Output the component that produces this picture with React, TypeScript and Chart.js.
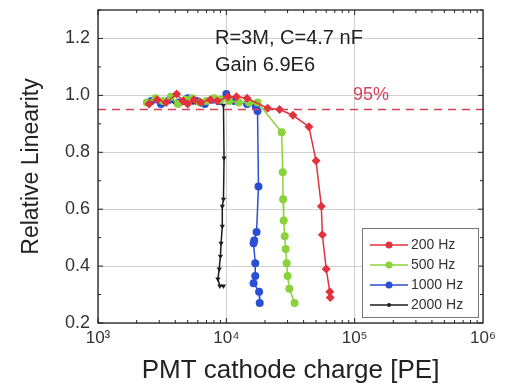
import React, { useEffect, useRef } from "react";
import { Chart, registerables } from "chart.js";

Chart.register(...registerables);

const seriesLabels = ["200 Hz", "500 Hz", "1000 Hz", "2000 Hz"];
const seriesColors = ["#e2323e", "#8ad23a", "#2b4fd4", "#1e1e1e"];

const red200: [number, number][] = [
  [2500, 0.97], [2900, 0.985], [3400, 0.975], [4100, 1.005], [4600, 0.98], [5000, 0.97],
  [5600, 0.985], [6300, 0.975], [7500, 0.985], [8500, 0.98], [10300, 0.995], [12000, 0.995],
  [14500, 0.99], [21000, 0.955], [26000, 0.95], [33000, 0.93], [44000, 0.89], [50000, 0.77],
  [55000, 0.61], [56000, 0.51], [60000, 0.39], [64000, 0.31], [64500, 0.29],
];
const green500: [number, number][] = [
  [2400, 0.975], [2800, 0.99], [3200, 0.98], [3700, 0.995], [4200, 0.97], [4800, 0.985],
  [5400, 0.99], [6200, 0.975], [7000, 0.98], [8000, 0.99], [9000, 0.985], [10500, 0.98],
  [12500, 0.975], [15000, 0.975], [17500, 0.975], [27000, 0.87], [27500, 0.73], [27700, 0.635],
  [28000, 0.56], [28500, 0.505], [29000, 0.46], [29500, 0.41], [30000, 0.365], [31000, 0.32],
  [34000, 0.27],
];
const blue1000: [number, number][] = [
  [2600, 0.98], [3100, 0.97], [3600, 0.985], [4300, 0.975], [5000, 0.99], [5900, 0.98],
  [6800, 0.97], [7800, 0.985], [8800, 0.98], [10000, 1.005], [11500, 0.98], [14500, 0.97],
  [17000, 0.96], [17500, 0.945], [17800, 0.68], [17200, 0.52], [16500, 0.49], [16300, 0.48],
  [16800, 0.41], [16800, 0.365], [16300, 0.34], [18000, 0.31], [18200, 0.27],
];
const black2000: [number, number][] = [
  [2500, 0.975], [3000, 0.98], [3500, 0.985], [4000, 0.97], [4700, 0.985], [5500, 0.975],
  [6500, 0.98], [7500, 0.985], [8500, 0.975], [9500, 0.965], [9600, 0.78], [9500, 0.635],
  [9300, 0.61], [9300, 0.54], [9100, 0.48], [9000, 0.435], [8800, 0.39], [8600, 0.355],
  [8900, 0.33], [9500, 0.33],
];
const thresholdLine: [number, number][] = [[1000, 0.95], [1000000, 0.95]];
const xDecades = [1000, 10000, 100000, 1000000];
const xTickLabels = ["10³", "10⁴", "10⁵", "10⁶"];

const toPts = (a: [number, number][]) => a.map(([x, y]) => ({ x, y }));
const FONT = "'Liberation Sans', Arial, sans-serif";

export default function App() {
  const ref = useRef<HTMLCanvasElement | null>(null);
  useEffect(() => {
    document.body.style.margin = "0";
    const canvas = ref.current!;
    const styles = [
      { pointStyle: "rectRot", radius: 4.5 },
      { pointStyle: "circle", radius: 4 },
      { pointStyle: "circle", radius: 4 },
      { pointStyle: "triangle", radius: 3, rotation: 180 },
    ];
    const all = [red200, green500, blue1000, black2000];
    const datasets: any[] = all.map((d, i) => ({
      label: seriesLabels[i],
      data: toPts(d),
      borderColor: seriesColors[i],
      backgroundColor: seriesColors[i],
      borderWidth: 1.5,
      pointStyle: styles[i].pointStyle,
      pointRadius: styles[i].radius,
      pointRotation: (styles[i] as any).rotation || 0,
      pointBorderWidth: 0,
      showLine: true,
      tension: 0,
    }));
    datasets.unshift({
      label: "95%",
      data: toPts(thresholdLine),
      borderColor: "#d9405a",
      borderWidth: 1.5,
      borderDash: [8, 6],
      pointRadius: 0,
      showLine: true,
    });

    const framePlugin = {
      id: "frame",
      afterDraw(chart: any) {
        const ctx = chart.ctx;
        const { left, right, top, bottom } = chart.chartArea;
        const xs = chart.scales.x;
        const ys = chart.scales.y;
        ctx.save();
        ctx.strokeStyle = "#222";
        ctx.lineWidth = 1.3;
        ctx.strokeRect(left, top, right - left, bottom - top);
        ctx.lineWidth = 1;
        ctx.beginPath();
        for (let d = 0; d < 3; d++) {
          for (let m = 1; m <= 9; m++) {
            const v = xDecades[d] * m;
            const px = xs.getPixelForValue(v);
            const len = m === 1 ? 5 : 3;
            ctx.moveTo(px, bottom); ctx.lineTo(px, bottom - len);
            ctx.moveTo(px, top); ctx.lineTo(px, top + len);
          }
        }
        for (let k = 2; k <= 13; k++) {
          const v = k / 10;
          const py = ys.getPixelForValue(v);
          const len = k % 2 === 0 ? 5 : 3;
          ctx.moveTo(left, py); ctx.lineTo(left + len, py);
          ctx.moveTo(right, py); ctx.lineTo(right - len, py);
        }
        ctx.stroke();

        // annotation text
        ctx.fillStyle = "#222";
        ctx.font = `20px ${FONT}`;
        ctx.textAlign = "left";
        ctx.textBaseline = "middle";
        ctx.fillText("R=3M, C=4.7 nF", 215, 38);
        ctx.fillText("Gain 6.9E6", 215, 65);
        ctx.fillStyle = "#d9405a";
        ctx.font = `18px ${FONT}`;
        ctx.fillText("95%", xs.getPixelForValue(97000), ys.getPixelForValue(1.0));

        // legend
        const lx = 362, ly = 228, lw = 116, lh = 89;
        ctx.fillStyle = "#fff";
        ctx.fillRect(lx, ly, lw, lh);
        ctx.strokeStyle = "#777";
        ctx.lineWidth = 1;
        ctx.strokeRect(lx + 0.5, ly + 0.5, lw, lh);
        ctx.font = `14px ${FONT}`;
        for (let i = 0; i < 4; i++) {
          const yy = 245 + i * 20;
          ctx.strokeStyle = seriesColors[i];
          ctx.lineWidth = 1.5;
          ctx.beginPath();
          ctx.moveTo(370, yy); ctx.lineTo(408, yy);
          ctx.stroke();
          ctx.fillStyle = seriesColors[i];
          ctx.beginPath();
          ctx.arc(389, yy, i === 3 ? 2 : 3.5, 0, Math.PI * 2);
          ctx.fill();
          ctx.fillStyle = "#333";
          ctx.fillText(seriesLabels[i], 411, yy);
        }
        ctx.restore();
      },
    };

    const chart = new Chart(canvas, {
      type: "scatter",
      data: { datasets },
      options: {
        responsive: false,
        animation: false,
        layout: { padding: { top: 10, right: 24, left: 18, bottom: 0 } },
        plugins: { legend: { display: false }, tooltip: { enabled: false } },
        scales: {
          x: {
            type: "logarithmic",
            min: 1000,
            max: 1000000,
            afterBuildTicks: (s: any) => {
              s.ticks = xDecades.map((v) => ({ value: v }));
            },
            afterFit: (s: any) => {
              s.height = 63;
              s.paddingLeft = 0;
              s.paddingRight = 0;
            },
            ticks: {
              padding: 5,
              color: "#333",
              font: { size: 17, family: FONT },
              callback: (v: any) => {
                const i = xDecades.indexOf(Number(v));
                return i >= 0 ? xTickLabels[i] : "";
              },
              maxRotation: 0,
              autoSkip: false,
            },
            grid: { color: "#cfcfcf", drawTicks: false, lineWidth: 1 },
            border: { display: false },
            title: {
              display: true,
              text: "PMT cathode charge [PE]",
              color: "#222",
              font: { size: 26, family: FONT },
              padding: { top: 0, bottom: 0 },
            },
          },
          y: {
            type: "linear",
            min: 0.2,
            max: 1.3,
            afterBuildTicks: (s: any) => {
              const t = [];
              for (let k = 2; k <= 12; k += 2) t.push({ value: k / 10 });
              s.ticks = t;
            },
            afterFit: (s: any) => {
              s.width = 80;
              s.paddingTop = 0;
              s.paddingBottom = 0;
            },
            ticks: {
              padding: 8,
              color: "#333",
              font: { size: 18, family: FONT },
              callback: (v: any) => Number(v).toFixed(1),
            },
            grid: { color: "#cfcfcf", drawTicks: false, lineWidth: 1 },
            border: { display: false },
            title: {
              display: true,
              text: "Relative Linearity",
              color: "#222",
              font: { size: 23, family: FONT },
              padding: { top: 0, bottom: 0 },
            },
          },
        },
      },
      plugins: [framePlugin],
    });
    return () => chart.destroy();
  }, []);
  return <canvas ref={ref} width={507} height={386} style={{ display: "block" }} />;
}
